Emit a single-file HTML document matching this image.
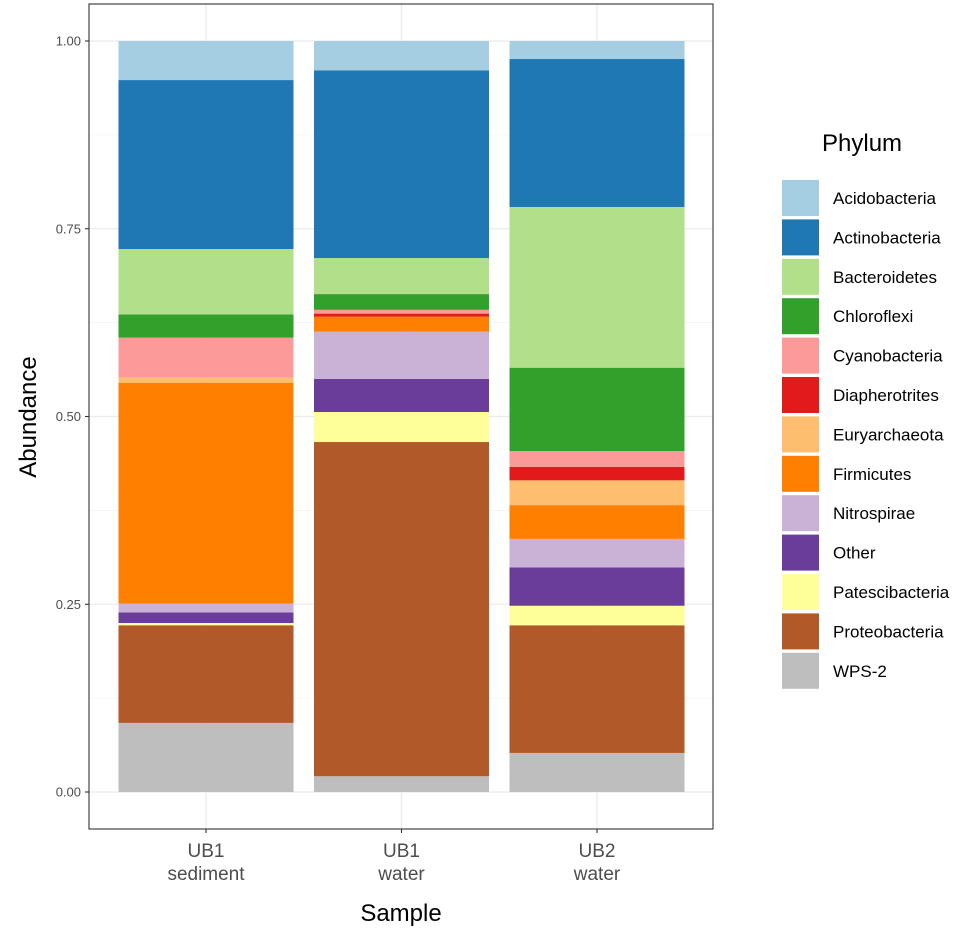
<!DOCTYPE html>
<html><head><meta charset="utf-8"><style>
body{margin:0;background:#fff}
svg{display:block;font-family:"Liberation Sans",sans-serif}
</style></head><body>
<svg id="chart" width="974" height="932"></svg>
<script>
const categories = ["UB1 sediment", "UB1 water", "UB2 water"];
const phyla = ["Acidobacteria","Actinobacteria","Bacteroidetes","Chloroflexi","Cyanobacteria","Diapherotrites","Euryarchaeota","Firmicutes","Nitrospirae","Other","Patescibacteria","Proteobacteria","WPS-2"];
const colors = ["#A6CEE3","#1F78B4","#B2DF8A","#33A02C","#FB9A99","#E31A1C","#FDBF6F","#FF7F00","#CAB2D6","#6A3D9A","#FFFF99","#B15928","#BEBEBE"];
const ub1Sediment = [0.052,0.225,0.087,0.031,0.053,0.000,0.007,0.294,0.012,0.014,0.003,0.130,0.092];
const ub1Water    = [0.039,0.250,0.048,0.021,0.005,0.004,0.000,0.020,0.063,0.044,0.040,0.445,0.021];
const ub2Water    = [0.024,0.197,0.214,0.111,0.021,0.018,0.033,0.045,0.038,0.051,0.026,0.170,0.052];
const series = [ub1Sediment, ub1Water, ub2Water];
const yTicks = [0, 0.25, 0.5, 0.75, 1.0];
const yTickLabels = ["0.00","0.25","0.50","0.75","1.00"];

const NS = "http://www.w3.org/2000/svg";
const svg = document.getElementById("chart");
function mk(tag, attrs, parent){const e=document.createElementNS(NS,tag);for(const k in attrs)e.setAttribute(k,attrs[k]);(parent||svg).appendChild(e);return e;}
const P = {l:89, r:713, t:4, b:829};
const y = v => 792 - v*751;
const bandStep = 195.5, bandW = 175;
const xc = i => 206 + i*bandStep;

const grid = mk("g",{});


for (let i=0;i<4;i++){const v=yTicks[i]+0.125;mk("line",{x1:P.l,x2:P.r,y1:y(v),y2:y(v),stroke:"#f4f4f4","stroke-width":0.8},grid);}
yTicks.forEach(v=>mk("line",{x1:P.l,x2:P.r,y1:y(v),y2:y(v),stroke:"#ebebeb","stroke-width":1.3},grid));
categories.forEach((c,i)=>mk("line",{x1:xc(i),x2:xc(i),y1:P.t,y2:P.b,stroke:"#ebebeb","stroke-width":1.3},grid));

categories.forEach((c,i)=>{
  const g = mk("g",{});
  
  
  let cum = 0;
  for (let k=phyla.length-1;k>=0;k--){
    const v = series[i][k];
    if (v<=0) continue;
    const r = mk("rect",{x:xc(i)-bandW/2,width:bandW,y:y(cum+v),height:y(cum)-y(cum+v),fill:colors[k]},g);
    
    
    cum += v;
  }
});

const border = mk("rect",{x:P.l,y:P.t,width:P.r-P.l,height:P.b-P.t,fill:"none",stroke:"#333","stroke-width":1.1});



yTicks.forEach((v,i)=>{
  mk("line",{x1:85,x2:P.l,y1:y(v),y2:y(v),stroke:"#333","stroke-width":1.1});
  const t = mk("text",{x:81,y:y(v)+4.5,"text-anchor":"end","font-size":13,fill:"#4d4d4d"});
  t.textContent = yTickLabels[i];
  
  
});
categories.forEach((c,i)=>{
  mk("line",{x1:xc(i),x2:xc(i),y1:P.b,y2:P.b+4,stroke:"#333","stroke-width":1.1});
  const parts = c.split(" ");
  parts.forEach((p,j)=>{
    const t = mk("text",{x:xc(i),y:857+j*23,"text-anchor":"middle","font-size":19,fill:"#4d4d4d"});
    t.textContent = p;
    
    
  });
});
const xt = mk("text",{x:401,y:921,"text-anchor":"middle","font-size":24,fill:"#000"});
xt.textContent="Sample";


const yt = mk("text",{x:0,y:0,"text-anchor":"middle","font-size":24,fill:"#000",transform:"translate(36,417) rotate(-90)"});
yt.textContent="Abundance";



const lg = mk("g",{});


const lt = mk("text",{x:822,y:151,"font-size":24,fill:"#000"},lg);
lt.textContent="Phylum";


phyla.forEach((p,k)=>{
  const top = 180 + k*39.4;
  const r = mk("rect",{x:782,y:top,width:37,height:36,fill:colors[k]},lg);
  
  
  const t = mk("text",{x:833,y:top+24,"font-size":17,fill:"#000"},lg);
  t.textContent = p;
  
  
});
</script>
</body></html>
